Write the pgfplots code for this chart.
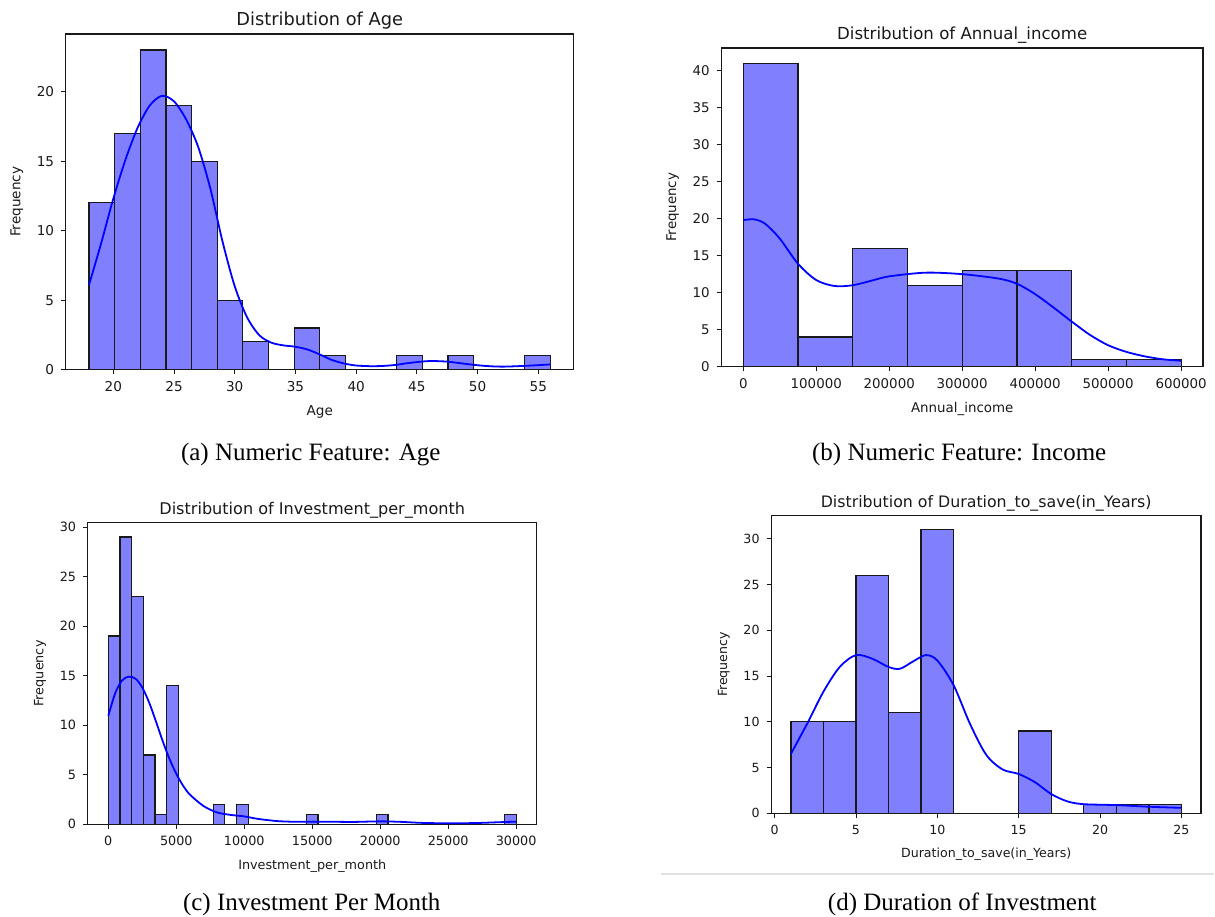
\documentclass[border=0pt]{standalone}
\usepackage{fontspec}
\setmainfont{DejaVu Sans}
\newfontfamily\capfont{Liberation Serif}
\usepackage{pgfplots}
\pgfplotsset{compat=1.18}
\definecolor{barfill}{RGB}{128,128,255}
\definecolor{txt}{RGB}{25,25,25}
\pgfplotsset{
  every axis title/.style={at={(0.5,1)}, anchor=base, yshift=4pt, txt},
  hist/.style={
    scale only axis, anchor=south west,
    axis line style={line width=0.55pt, txt},
    tick align=outside, xtick pos=bottom, ytick pos=left,
    major tick length=2.4pt, tick style={line width=0.45pt, txt},
    ymin=0, enlargelimits=false,
    /pgf/number format/assume math mode=true,
    /pgf/number format/fixed,
    /pgf/number format/precision=0,
    /pgf/number format/1000 sep={},
    scaled x ticks=false, scaled y ticks=false,
    ylabel={Frequency}, every tick label/.append style={txt},
    label style={txt},
  },
  bars/.style={ybar interval, fill=barfill, draw=black!90, line width=0.6pt},
  kde/.style={blue, line width=0.9pt, smooth, no marks},
}
\begin{document}
\begin{tikzpicture}
\path (0,0) rectangle (607.5pt,458.5pt);
% (a)
\begin{axis}[hist, at={(33pt,273.5pt)}, width=254pt, height=168pt,
  xmin=16.1, xmax=57.9, ymax=24.15,
  xtick={20,25,...,55}, ytick={0,5,10,15,20},
  tick label style={font=\fontsize{6.8}{8}\selectfont},
  label style={font=\fontsize{6.8}{8}\selectfont},
  title style={font=\fontsize{8.9}{10}\selectfont},
  title={Distribution of Age}, xlabel={Age}]
\addplot[bars] coordinates {(18,12) (20.111,17) (22.222,23) (24.333,19) (26.444,15) (28.556,5) (30.667,2) (32.778,0) (34.889,3) (37,1) (39.111,0) (41.222,0) (43.333,1) (45.444,0) (47.556,1) (49.667,0) (51.778,0) (53.889,1) (56,1)};
\addplot[kde] coordinates {(18,6.1) (19,9.1) (20,12.3) (21,15.1) (22,17.4) (23,19.0) (24,19.7) (25,19.3) (26,18.0) (27,16.0) (28,13.0) (29,9.2) (30,6.0) (31,3.8) (32,2.5) (33,1.95) (34,1.75) (35,1.65) (36,1.45) (37,1.1) (38,0.7) (39,0.45) (40,0.3) (41.5,0.25) (43,0.32) (44.5,0.5) (46,0.62) (47.5,0.58) (49,0.42) (50.5,0.28) (52,0.22) (54,0.28) (56,0.38)};
\end{axis}
% (b)
\begin{axis}[hist, at={(361pt,275pt)}, width=241pt, height=159.5pt,
  xmin=-30000, xmax=630000, ymax=43.05,
  xtick={0,100000,200000,300000,400000,500000,600000}, ytick={0,5,...,40},
  xticklabels={0,100000,200000,300000,400000,500000,600000},
  tick label style={font=\fontsize{6.7}{8}\selectfont},
  label style={font=\fontsize{6.7}{8}\selectfont},
  title style={font=\fontsize{8.3}{10}\selectfont},
  title={Distribution of Annual\_income}, xlabel={Annual\_income}]
\addplot[bars] coordinates {(0,41) (75000,4) (150000,16) (225000,11) (300000,13) (375000,13) (450000,1) (525000,1) (600000,1)};
\addplot[kde] coordinates {(0,19.8) (15000,19.9) (30000,19.3) (50000,17.3) (75000,13.9) (100000,11.7) (125000,10.9) (150000,11.0) (175000,11.6) (200000,12.2) (250000,12.7) (300000,12.5) (350000,11.9) (375000,11.2) (400000,9.8) (425000,8.0) (450000,6.1) (475000,4.3) (500000,2.9) (525000,2.0) (550000,1.4) (575000,1.0) (600000,0.8)};
\end{axis}
% (c)
\begin{axis}[hist, at={(44pt,46pt)}, width=224.5pt, height=151pt,
  xmin=-1500, xmax=31500, ymax=30.45,
  xtick={0,5000,10000,15000,20000,25000,30000}, ytick={0,5,...,30},
  xticklabels={0,5000,10000,15000,20000,25000,30000},
  tick label style={font=\fontsize{6.4}{8}\selectfont},
  label style={font=\fontsize{6.4}{8}\selectfont},
  title style={font=\fontsize{8.05}{10}\selectfont},
  title={Distribution of Investment\_per\_month}, xlabel={Investment\_per\_month}]
\addplot[bars] coordinates {(0,19) (857.14,29) (1714.29,23) (2571.43,7) (3428.57,1) (4285.71,14) (5142.86,0) (6000,0) (6857.14,0) (7714.29,2) (8571.43,0) (9428.57,2) (10285.71,0) (11142.86,0) (12000,0) (12857.14,0) (13714.29,0) (14571.43,1) (15428.57,0) (16285.71,0) (17142.86,0) (18000,0) (18857.14,0) (19714.29,1) (20571.43,0) (21428.57,0) (22285.71,0) (23142.86,0) (24000,0) (24857.14,0) (25714.29,0) (26571.43,0) (27428.57,0) (28285.71,0) (29142.86,1) (30000,1)};
\addplot[kde] coordinates {(0,10.95) (500,13.2) (1000,14.5) (1500,14.9) (2000,14.7) (2500,13.8) (3000,12.3) (3500,10.4) (4000,8.4) (4500,6.6) (5000,5.1) (5500,3.9) (6000,3.0) (7000,1.85) (8000,1.2) (9000,0.95) (10000,0.8) (11000,0.55) (12500,0.32) (14000,0.25) (15000,0.27) (16500,0.26) (18000,0.24) (20000,0.3) (21500,0.25) (23000,0.15) (25000,0.1) (27000,0.13) (28500,0.2) (30000,0.27)};
\end{axis}
% (d)
\begin{axis}[hist, at={(386pt,51.5pt)}, width=215pt, height=149pt,
  xmin=-0.2, xmax=26.2, ymax=32.55,
  xtick={0,5,...,25}, ytick={0,5,...,30},
  tick label style={font=\fontsize{6.3}{8}\selectfont},
  label style={font=\fontsize{6.3}{8}\selectfont},
  title style={font=\fontsize{7.9}{10}\selectfont},
  title={Distribution of Duration\_to\_save(in\_Years)}, xlabel={Duration\_to\_save(in\_Years)}]
\addplot[bars] coordinates {(1,10) (3,10) (5,26) (7,11) (9,31) (11,0) (13,0) (15,9) (17,0) (19,1) (21,1) (23,1) (25,1)};
\addplot[kde] coordinates {(1,6.5) (2,9.8) (3,13.3) (4,16.0) (5,17.3) (6,16.9) (7,16.0) (7.7,15.8) (8.5,16.6) (9.3,17.3) (10,16.7) (11,14.0) (12,9.8) (13,6.4) (14,4.8) (15,4.3) (16,3.4) (17,2.1) (18,1.3) (19,1.0) (21,0.9) (23,0.72) (25,0.6)};
\end{axis}
\draw[color={rgb,255:red,225;green,225;blue,225}, line width=1pt] (331pt,21pt) -- (607.5pt,21pt);
\begin{scope}[every node/.style={font=\capfont\fontsize{12.5}{14}\selectfont, anchor=base, inner sep=0pt}]
\node at (155.5pt,228pt) {(a) Numeric Feature: Age};
\node at (480pt,228pt) {(b) Numeric Feature: Income};
\node at (156pt,3pt) {(c) Investment Per Month};
\node at (481.5pt,3pt) {(d) Duration of Investment};
\end{scope}
\end{tikzpicture}
\end{document}
